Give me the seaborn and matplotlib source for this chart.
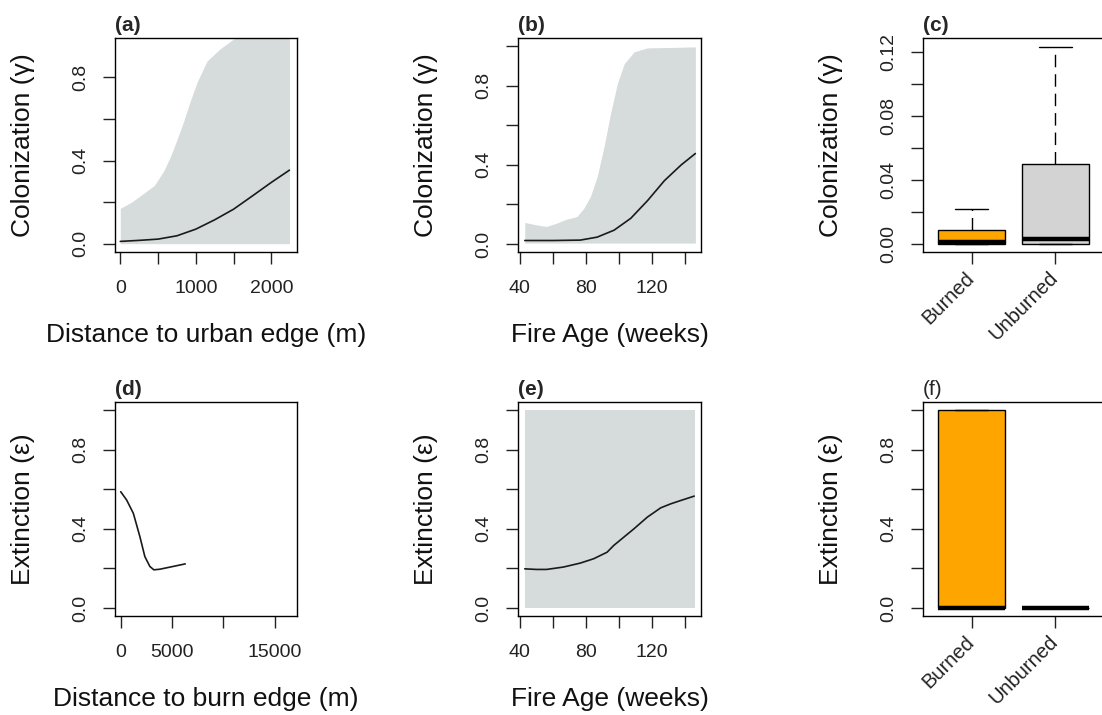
import numpy as np
import pandas as pd
import matplotlib
matplotlib.use('Agg')
import matplotlib.pyplot as plt
import seaborn as sns

# (a) colonization vs distance to urban edge
a_x = [0, 250, 500, 750, 1000, 1250, 1500, 1750, 2000, 2240]
a_y = [0.011, 0.016, 0.022, 0.038, 0.07, 0.115, 0.166, 0.23, 0.295, 0.354]
a_band_x = [0, 150, 300, 450, 575, 665, 750, 840, 930, 1020, 1150, 1330, 1500, 1600, 2240]
a_band_hi = [0.17, 0.20, 0.24, 0.28, 0.35, 0.42, 0.50, 0.59, 0.69, 0.78, 0.88, 0.94, 0.985, 1.0, 1.0]
a_band_lo = [0.0] * len(a_band_x)

# (b) colonization vs fire age
b_x = [43, 60, 76.5, 86.7, 96.9, 107, 117.2, 127.3, 137.5, 146]
b_y = [0.018, 0.018, 0.02, 0.035, 0.07, 0.13, 0.22, 0.32, 0.40, 0.457]
b_band_x = [43, 50, 56, 62, 68, 74.5, 78.6, 82.6, 86.7, 90.8, 94.8, 98.9, 103, 109, 117, 146]
b_band_hi = [0.109, 0.097, 0.089, 0.105, 0.125, 0.139, 0.18, 0.24, 0.34, 0.49, 0.66, 0.81, 0.91, 0.97, 0.99, 0.995]
b_band_lo = [0.005] * len(b_band_x)

# (c) colonization by burn status (min, q1, median, q3, max)
groups = ['Burned', 'Unburned']
c_burned = [0.0, 0.0, 0.001, 0.009, 0.022]
c_unburned = [0.0, 0.0, 0.003, 0.050, 0.123]

# (d) extinction vs distance to burn edge
d_x = [0, 580, 1230, 1870, 2350, 2840, 3230, 3800, 5100, 6290]
d_y = [0.587, 0.545, 0.478, 0.36, 0.26, 0.21, 0.193, 0.196, 0.21, 0.223]

# (e) extinction vs fire age
e_x = [43, 50.1, 56.2, 66.3, 76.5, 84.6, 92.7, 96.7, 102.8, 108.9, 117, 125.1, 131.1, 137.2, 145.3]
e_y = [0.198, 0.195, 0.195, 0.207, 0.227, 0.249, 0.282, 0.316, 0.358, 0.40, 0.459, 0.506, 0.526, 0.543, 0.565]
e_band_x = [43, 146]
e_band_hi = [1.0, 1.0]
e_band_lo = [0.0, 0.0]

# (f) extinction by burn status
f_burned = [0.0, 0.0, 0.0, 1.0, 1.0]
f_unburned = [0.0, 0.0, 0.0, 0.0, 0.0]

sns.set_style("white")
plt.rcParams['font.family'] = ['Liberation Sans', 'DejaVu Sans']

W, H = 1102, 715
BAND = '#D6DBDB'
TICK_FS = 14
LAB_FS = 19


def make_ax(fig, x0, x1, y0, y1):
    return fig.add_axes([x0 / W, 1 - y1 / H, (x1 - x0) / W, (y1 - y0) / H])


def style_ax(ax, title, bold=True):
    for s in ax.spines.values():
        s.set_visible(True)
        s.set_color('black')
        s.set_linewidth(1.0)
    ax.tick_params(axis='both', direction='out', length=8.5, width=1.0,
                   labelsize=TICK_FS, colors='#222222', left=True, bottom=True)
    ax.tick_params(axis='y', pad=10)
    ax.tick_params(axis='x', pad=11.5)
    for lab in ax.get_yticklabels():
        lab.set_rotation(90)
        lab.set_va('center')
    ax.set_title(title, loc='left', fontsize=15, pad=5,
                 fontweight='bold' if bold else 'normal')


def set_ticks(ax, xt, xl, yt, yl):
    if xt is not None:
        ax.set_xticks(xt)
        ax.set_xticklabels(xl)
    ax.set_yticks(yt)
    ax.set_yticklabels(yl)


def labels(ax, xlabel, ylabel, xfrac=-0.505):
    if xlabel:
        ax.set_xlabel(xlabel, fontsize=LAB_FS, color='#111111')
        ax.xaxis.label.set_va('center')
        ax.xaxis.set_label_coords(0.5, -0.39)
    ax.set_ylabel(ylabel, fontsize=LAB_FS, color='#111111')
    ax.yaxis.label.set_va('center')
    ax.yaxis.set_label_coords(xfrac, 0.5)


def curve_panel(ax, x, y, bx=None, lo=None, hi=None):
    if bx is not None:
        ax.fill_between(bx, lo, hi, color=BAND, linewidth=0)
    sns.lineplot(x=x, y=y, ax=ax, color='#1a1a1a', linewidth=1.2)


def box_panel(ax, burned, unburned):
    df = pd.DataFrame({
        'group': [groups[0]] * len(burned) + [groups[1]] * len(unburned),
        'value': burned + unburned,
    })
    sns.boxplot(data=df, x='group', y='value', hue='group', order=groups,
                palette={'Burned': '#FFA500', 'Unburned': '#D3D3D3'},
                saturation=1, width=0.8, whis=(0, 100), showfliers=False,
                linecolor='black', linewidth=1.0, legend=False, ax=ax,
                medianprops={'linewidth': 3.2, 'color': 'black'},
                whiskerprops={'linestyle': (0, (9, 5))})
    ax.set_xlim(-0.58, 1.58)
    ax.set_xlabel('')


def rotate_cats(ax):
    ax.tick_params(axis='x', pad=8)
    for lab in ax.get_xticklabels():
        lab.set_rotation(45)
        lab.set_ha('right')
        lab.set_va('center')
        lab.set_rotation_mode('anchor')
        lab.set_fontsize(14.5)


fig = plt.figure(figsize=(W / 100, H / 100), dpi=100)

lab01 = ['0.0', '', '0.4', '', '0.8']
lab011 = ['0.0', '', '0.4', '', '0.8', '']

# (a)
ax = make_ax(fig, 115, 297, 38, 252)
curve_panel(ax, a_x, a_y, a_band_x, a_band_lo, a_band_hi)
ax.set_xlim(-70, 2340)
ax.set_ylim(-0.04, 0.99)
set_ticks(ax, [0, 500, 1000, 1500, 2000], ['0', '', '1000', '', '2000'],
          [0, 0.2, 0.4, 0.6, 0.8], lab01)
style_ax(ax, '(a)')
labels(ax, 'Distance to urban edge (m)', 'Colonization (γ)')

# (b)
ax = make_ax(fig, 518, 701, 38, 252)
curve_panel(ax, b_x, b_y, b_band_x, b_band_lo, b_band_hi)
ax.set_xlim(38.9, 149.4)
ax.set_ylim(-0.04, 1.04)
set_ticks(ax, [40, 60, 80, 100, 120, 140], ['40', '', '80', '', '120', ''],
          [0, 0.2, 0.4, 0.6, 0.8, 1.0], lab011)
style_ax(ax, '(b)')
labels(ax, 'Fire Age (weeks)', 'Colonization (γ)', -0.50)

# (c)
ax = make_ax(fig, 923, 1104, 38, 252)
box_panel(ax, c_burned, c_unburned)
ax.set_ylim(-0.005, 0.1288)
set_ticks(ax, None, None, [0, 0.02, 0.04, 0.06, 0.08, 0.10, 0.12],
          ['0.00', '', '0.04', '', '0.08', '', '0.12'])
style_ax(ax, '(c)')
rotate_cats(ax)
labels(ax, None, 'Colonization (γ)', -0.51)

# (d)
ax = make_ax(fig, 115, 297, 402, 616)
curve_panel(ax, d_x, d_y)
ax.set_xlim(-560, 17190)
ax.set_ylim(-0.04, 1.04)
set_ticks(ax, [0, 5000, 10000, 15000], ['0', '5000', '', '15000'],
          [0, 0.2, 0.4, 0.6, 0.8, 1.0], lab011)
style_ax(ax, '(d)')
labels(ax, 'Distance to burn edge (m)', 'Extinction (ε)')

# (e)
ax = make_ax(fig, 518, 701, 402, 616)
curve_panel(ax, e_x, e_y, e_band_x, e_band_lo, e_band_hi)
ax.set_xlim(38.9, 149.4)
ax.set_ylim(-0.04, 1.04)
set_ticks(ax, [40, 60, 80, 100, 120, 140], ['40', '', '80', '', '120', ''],
          [0, 0.2, 0.4, 0.6, 0.8, 1.0], lab011)
style_ax(ax, '(e)')
labels(ax, 'Fire Age (weeks)', 'Extinction (ε)', -0.50)

# (f)
ax = make_ax(fig, 923, 1104, 402, 616)
box_panel(ax, f_burned, f_unburned)
ax.set_ylim(-0.04, 1.04)
set_ticks(ax, None, None, [0, 0.2, 0.4, 0.6, 0.8, 1.0], lab011)
style_ax(ax, '(f)', bold=False)
rotate_cats(ax)
labels(ax, None, 'Extinction (ε)', -0.51)

fig.savefig('out.png', dpi=100)
plt.close(fig)
